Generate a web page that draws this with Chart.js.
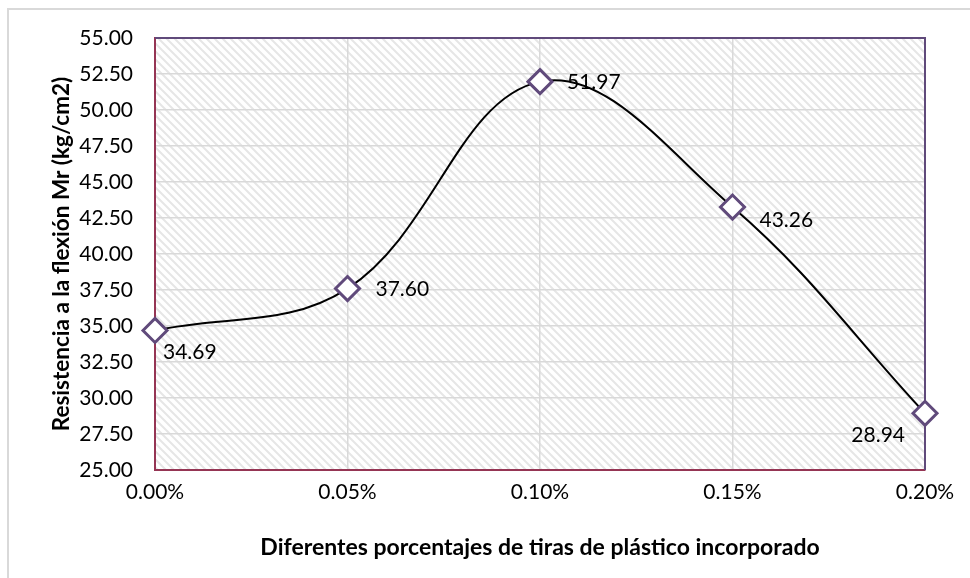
<!DOCTYPE html>
<html>
<head>
<meta charset="utf-8">
<script src="https://cdn.jsdelivr.net/npm/chart.js@4.4.1/dist/chart.umd.min.js"></script>
<style>
  html, body { margin: 0; padding: 0; background: #ffffff; }
  #wrap { position: relative; width: 970px; height: 578px; overflow: hidden; }
  #frame { position: absolute; left: 7px; top: 8px; width: 980px; height: 590px;
           border-left: 2px solid #d9d9d9; border-top: 2px solid #d9d9d9; pointer-events: none; }
  canvas { position: absolute; left: 0; top: 0; }
</style>
</head>
<body>
<div id="wrap">
  <div id="frame"></div>
  <canvas id="chart" width="970" height="578"></canvas>
</div>
<script>
// Plastic strip percentage vs. flexural strength
const categories = ['0.00%', '0.05%', '0.10%', '0.15%', '0.20%'];
const strength = [34.69, 37.60, 51.97, 43.26, 28.94];
const yTicks = { min: 25, max: 55, step: 2.5 };
const xTitle = 'Diferentes porcentajes de tiras de plástico incorporado';
const yTitle = 'Resistencia a la flexión Mr (kg/cm2)';

// value label offsets from each marker: [dx, dy, textAlign]
const labelOffsets = [
  [8, 22, 'left'],
  [28, 1, 'left'],
  [27, 1, 'left'],
  [27, 13, 'left'],
  [-20, 22, 'right']
];

const FONT = 'Lato, "Open Sans", sans-serif';

// diagonal hatch for the plot background
function makeHatch() {
  const c = document.createElement('canvas');
  c.width = 8; c.height = 8;
  const g = c.getContext('2d');
  g.fillStyle = '#ffffff';
  g.fillRect(0, 0, 8, 8);
  g.strokeStyle = '#e6e6e6';
  g.lineWidth = 2;
  g.beginPath();
  g.moveTo(-2, -2); g.lineTo(10, 10);
  g.moveTo(-10, -2); g.lineTo(2, 10);
  g.moveTo(6, -2); g.lineTo(18, 10);
  g.stroke();
  return c;
}

const plotDecor = {
  id: 'plotDecor',
  beforeDraw(chart) {
    const { ctx, chartArea: a } = chart;
    ctx.save();
    ctx.fillStyle = ctx.createPattern(makeHatch(), 'repeat');
    ctx.fillRect(a.left, a.top, a.right - a.left, a.bottom - a.top);
    ctx.restore();
  },
  beforeDatasetsDraw(chart) {
    const { ctx, chartArea: a } = chart;
    ctx.save();
    ctx.lineWidth = 2;
    ctx.strokeStyle = '#604a7b';
    ctx.beginPath();
    ctx.moveTo(a.left, a.top);
    ctx.lineTo(a.right, a.top);
    ctx.lineTo(a.right, a.bottom);
    ctx.stroke();
    ctx.restore();
  },
  afterDatasetsDraw(chart) {
    const { ctx } = chart;
    const meta = chart.getDatasetMeta(0);
    ctx.save();
    ctx.font = '21px ' + FONT;
    ctx.fillStyle = '#000000';
    ctx.textBaseline = 'middle';
    meta.data.forEach((pt, i) => {
      const [dx, dy, align] = labelOffsets[i];
      ctx.textAlign = align;
      ctx.fillText(strength[i].toFixed(2), pt.x + dx, pt.y + dy);
    });
    ctx.restore();
  }
};

new Chart(document.getElementById('chart'), {
  type: 'line',
  data: {
    labels: categories,
    datasets: [{
      data: strength,
      borderColor: '#000000',
      borderWidth: 2,
      tension: 0.38,
      pointStyle: 'rectRot',
      pointRadius: 12,
      pointHoverRadius: 12,
      pointBorderWidth: 3,
      pointBorderColor: '#604a7b',
      pointBackgroundColor: '#ffffff',
      clip: false
    }]
  },
  options: {
    responsive: false,
    animation: false,
    events: [],
    layout: { padding: { top: 38, right: 45, left: 0, bottom: 0 } },
    plugins: { legend: { display: false }, tooltip: { enabled: false } },
    scales: {
      x: {
        offset: false,
        grid: { color: '#d9d9d9', lineWidth: 1.5, drawTicks: false },
        border: { color: '#953554', width: 2 },
        ticks: { color: '#000000', font: { family: FONT, size: 21 }, padding: 10, maxRotation: 0 },
        title: { display: true, text: xTitle, color: '#000000',
                 font: { family: FONT, size: 23, weight: 'bold' }, padding: { top: 0, bottom: 17 } },
        afterFit(s) { s.height = 108; }
      },
      y: {
        min: yTicks.min, max: yTicks.max,
        grid: { color: '#d9d9d9', lineWidth: 1.5, drawTicks: false },
        border: { color: '#953554', width: 2 },
        ticks: { stepSize: yTicks.step, color: '#000000', font: { family: FONT, size: 21 },
                 padding: 22, callback: v => Number(v).toFixed(2) },
        title: { display: true, text: yTitle, color: '#000000',
                 font: { family: FONT, size: 22.5, weight: 'bold' }, padding: { top: 48, bottom: 0 } },
        afterFit(s) { s.width = 155; }
      }
    }
  },
  plugins: [plotDecor]
});
</script>
</body>
</html>
